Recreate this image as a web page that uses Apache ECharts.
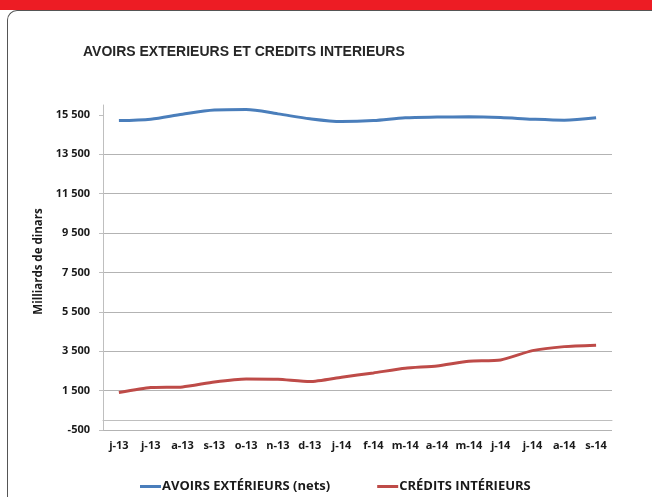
<!DOCTYPE html>
<html>
<head>
<meta charset="utf-8">
<script src="https://cdn.jsdelivr.net/npm/echarts@6/dist/echarts.min.js"></script>
<style>
html, body { margin: 0; padding: 0; background: #fff; overflow: hidden; }
#band { position: absolute; left: 0; top: 0; width: 652px; height: 10px; background: #ed1c24; }
#frame { position: absolute; left: 7px; top: 10px; width: 700px; height: 600px;
	border-left: 1px solid #555; border-top: 1px solid #555; border-top-left-radius: 10px; }
#main { position: absolute; left: 0; top: 0; width: 652px; height: 497px; }
</style>
</head>
<body>
<div id="band"></div>
<div id="frame"></div>
<div id="main"></div>
<script>
// 数据
var months = ['j-13', 'j-13', 'a-13', 's-13', 'o-13', 'n-13', 'd-13', 'j-14',
	'f-14', 'm-14', 'a-14', 'm-14', 'j-14', 'j-14', 'a-14', 's-14'];
var avoirs = [15210, 15280, 15535, 15740, 15770, 15550, 15300, 15160,
	15210, 15350, 15385, 15400, 15365, 15280, 15230, 15350];
var credits = [1400, 1652, 1688, 1942, 2094, 2079, 1957, 2180,
	2399, 2637, 2754, 2992, 3058, 3530, 3733, 3805];
var yTicks = [-500, 1500, 3500, 5500, 7500, 9500, 11500, 13500, 15500];

// 千位空格
function fmtNum(v) {
	var s = String(Math.abs(v));
	var out = s.replace(/\B(?=(\d{3})+(?!\d))/g, ' ');
	return (v < 0 ? '-' : '') + out;
}

var labelFont = 'Open Sans';

var myChart = echarts.init(document.getElementById('main'));
var option = {
	animation : false,
	title : {
		text : 'AVOIRS EXTERIEURS ET CREDITS INTERIEURS',
		left : 83,
		top : 45,
		padding : 0,
		textStyle : {
			fontFamily : 'Liberation Sans',
			fontWeight : 'bold',
			fontSize : 14,
			color : '#262626'
		}
	},
	legend : {
		left : 135,
		top : 475,
		itemGap : 47,
		itemWidth : 21,
		itemHeight : 3,
		icon : 'rect',
		textStyle : {
			fontFamily : labelFont,
			fontWeight : 'bold',
			fontSize : 13,
			color : '#1a1a1a',
			padding : [0, 0, 0, -4]
		},
		data : ['AVOIRS EXTÉRIEURS (nets)', 'CRÉDITS INTÉRIEURS']
	},
	grid : {
		left : 103,
		right : 40,
		top : 105,
		bottom : 67
	},
	xAxis : {
		type : 'category',
		data : months,
		boundaryGap : true,
		axisLine : {
			onZero : true,
			lineStyle : { color : '#bfbfbf', width : 1 }
		},
		axisTick : {
			length : 4,
			interval : 0,
			lineStyle : { color : '#bfbfbf' }
		},
		axisLabel : {
			interval : 0,
			margin : 10,
			fontFamily : labelFont,
			fontWeight : 'bold',
			fontSize : 11,
			color : '#1a1a1a'
		}
	},
	yAxis : {
		type : 'value',
		min : -500,
		max : 16000,
		interval : 2000,
		name : 'Milliards de dinars',
		nameLocation : 'middle',
		nameGap : 52,
		nameTextStyle : {
			fontFamily : labelFont,
			fontWeight : 'bold',
			fontSize : 11.5,
			color : '#1a1a1a',
			padding : [0, 0, 0, 12]
		},
		axisLine : {
			show : true,
			lineStyle : { color : '#bfbfbf', width : 1 }
		},
		axisTick : {
			show : true,
			length : 4,
			customValues : yTicks,
			lineStyle : { color : '#bfbfbf' }
		},
		axisLabel : {
			margin : 13,
			customValues : yTicks,
			fontFamily : labelFont,
			fontWeight : 'bold',
			fontSize : 11,
			color : '#1a1a1a',
			formatter : function(v) { return fmtNum(v); }
		},
		splitLine : {
			show : true,
			showMaxLine : false,
			lineStyle : { color : '#b3b3b3', width : 1 }
		}
	},
	series : [ {
		name : 'AVOIRS EXTÉRIEURS (nets)',
		type : 'line',
		data : avoirs,
		smooth : 0.3,
		symbol : 'none',
		lineStyle : { color : '#4a7ebb', width : 3 },
		itemStyle : { color : '#4a7ebb' }
	}, {
		name : 'CRÉDITS INTÉRIEURS',
		type : 'line',
		data : credits,
		smooth : 0.2,
		symbol : 'none',
		lineStyle : { color : '#be4b48', width : 3 },
		itemStyle : { color : '#be4b48' }
	} ]
};
myChart.setOption(option);
</script>
</body>
</html>
